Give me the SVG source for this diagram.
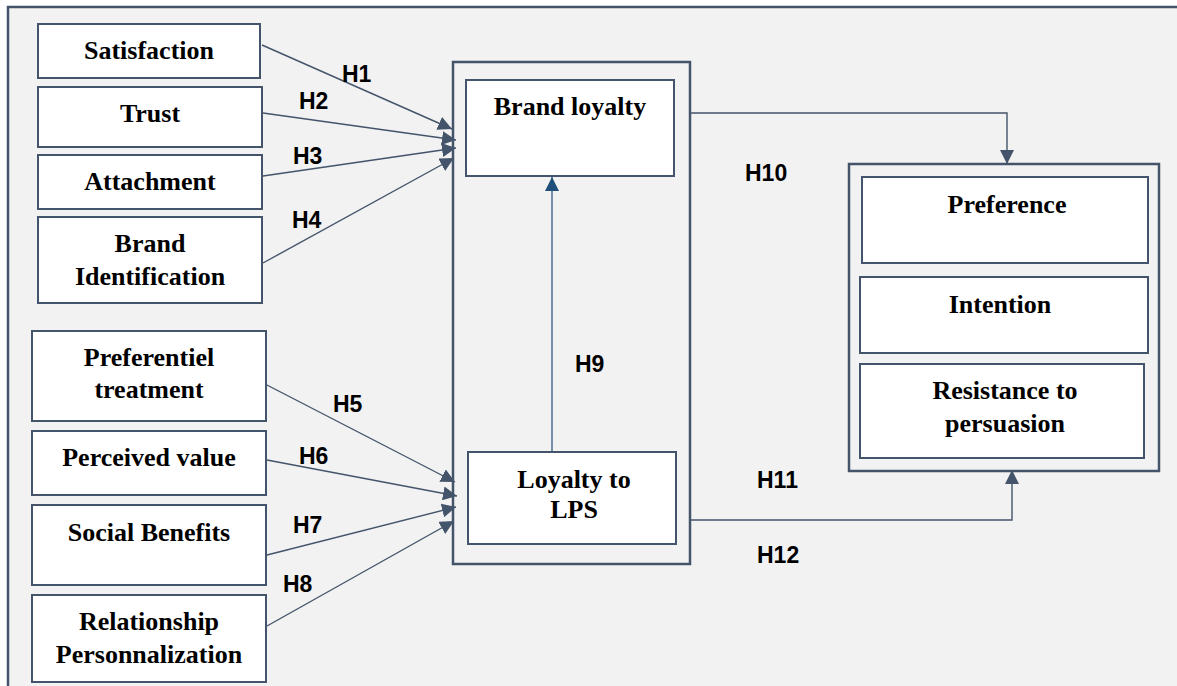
<svg xmlns="http://www.w3.org/2000/svg" width="1177" height="686" viewBox="0 0 1177 686">
<defs>
<style>
.bg{fill:#f2f2f2;stroke:#44546a;stroke-width:2.5}
.box{fill:#ffffff;stroke:#44546a;stroke-width:2}
.grp{fill:none;stroke:#44546a;stroke-width:2.5}
.t{font-family:"Liberation Serif","Times New Roman",serif;font-weight:bold;font-size:26px;fill:#000;text-anchor:middle}
.h{font-family:"Liberation Sans",Arial,sans-serif;font-weight:bold;font-size:23px;fill:#000}
.c{fill:none;stroke:#44546a;stroke-width:1.4}
.c9{fill:none;stroke:#44648a;stroke-width:1.4}
</style>
<marker id="ah" viewBox="0 0 14 14" markerWidth="14" markerHeight="14" refX="14" refY="7" orient="auto" markerUnits="userSpaceOnUse">
<path d="M0,0 L14,7 L0,14 z" fill="#44546a"/>
</marker>
<marker id="ahb" viewBox="0 0 14 14" markerWidth="14" markerHeight="14" refX="14" refY="7" orient="auto" markerUnits="userSpaceOnUse">
<path d="M0,0 L14,7 L0,14 z" fill="#1f4e79"/>
</marker>
</defs>
<rect x="0" y="0" width="1177" height="686" fill="#ffffff"/>
<rect class="bg" x="8" y="7" width="1185" height="700"/>

<g id="group-loyalty"><rect class="grp" x="453" y="62" width="237" height="502"/></g>
<g id="group-outcomes"><rect class="grp" x="849" y="164" width="310" height="307"/></g>

<g id="connectors">
<line class="c" x1="262" y1="45" x2="452" y2="129" marker-end="url(#ah)"/>
<line class="c" x1="263" y1="113" x2="456" y2="140" marker-end="url(#ah)"/>
<line class="c" x1="263" y1="176" x2="456" y2="148" marker-end="url(#ah)"/>
<line class="c" x1="263" y1="263" x2="454" y2="158" marker-end="url(#ah)"/>
<line class="c" x1="265" y1="384" x2="455" y2="482" marker-end="url(#ah)"/>
<line class="c" x1="267" y1="460" x2="457" y2="496" marker-end="url(#ah)"/>
<line class="c" x1="267" y1="555" x2="456" y2="507" marker-end="url(#ah)"/>
<line class="c" x1="267" y1="626" x2="454" y2="521" marker-end="url(#ah)"/>
<line class="c9" x1="552" y1="452" x2="552" y2="177" marker-end="url(#ahb)"/>
<polyline class="c" points="690,113 1007,113 1007,164" marker-end="url(#ah)"/>
<polyline class="c" points="690,520 1012,520 1012,470" marker-end="url(#ah)"/>
</g>

<g id="labels">
<text class="h" x="342" y="82">H1</text>
<text class="h" x="299" y="109">H2</text>
<text class="h" x="293" y="164">H3</text>
<text class="h" x="292" y="228">H4</text>
<text class="h" x="333" y="412">H5</text>
<text class="h" x="299" y="464">H6</text>
<text class="h" x="293" y="533">H7</text>
<text class="h" x="283" y="592">H8</text>
<text class="h" x="575" y="372">H9</text>
<text class="h" x="745" y="181">H10</text>
<text class="h" x="757" y="488">H11</text>
<text class="h" x="757" y="563">H12</text>
</g>

<g id="satisfaction"><rect class="box" x="38" y="24" width="222" height="54"/><text class="t" x="149" y="59">Satisfaction</text></g>
<g id="trust"><rect class="box" x="38" y="87" width="224" height="60"/><text class="t" x="150" y="122">Trust</text></g>
<g id="attachment"><rect class="box" x="38" y="155" width="224" height="54"/><text class="t" x="150" y="190">Attachment</text></g>
<g id="brand-identification"><rect class="box" x="38" y="217" width="224" height="86"/><text class="t" x="150" y="252">Brand</text><text class="t" x="150" y="285">Identification</text></g>

<g id="preferentiel-treatment"><rect class="box" x="32" y="331" width="234" height="90"/><text class="t" x="149" y="366">Preferentiel</text><text class="t" x="149" y="398">treatment</text></g>
<g id="perceived-value"><rect class="box" x="32" y="431" width="234" height="64"/><text class="t" x="149" y="466">Perceived value</text></g>
<g id="social-benefits"><rect class="box" x="32" y="505" width="234" height="80"/><text class="t" x="149" y="541">Social Benefits</text></g>
<g id="relationship-personnalization"><rect class="box" x="32" y="595" width="234" height="87"/><text class="t" x="149" y="630">Relationship</text><text class="t" x="149" y="663">Personnalization</text></g>

<g id="brand-loyalty"><rect class="box" x="466" y="80" width="208" height="96"/><text class="t" x="570" y="115">Brand loyalty</text></g>
<g id="loyalty-lps"><rect class="box" x="468" y="452" width="208" height="92"/><text class="t" x="574" y="488">Loyalty to</text><text class="t" x="574" y="518">LPS</text></g>

<g id="preference"><rect class="box" x="862" y="177" width="286" height="86"/><text class="t" x="1007" y="213">Preference</text></g>
<g id="intention"><rect class="box" x="860" y="277" width="288" height="76"/><text class="t" x="1000" y="313">Intention</text></g>
<g id="resistance"><rect class="box" x="860" y="364" width="284" height="94"/><text class="t" x="1005" y="399">Resistance to</text><text class="t" x="1005" y="432">persuasion</text></g>
</svg>
